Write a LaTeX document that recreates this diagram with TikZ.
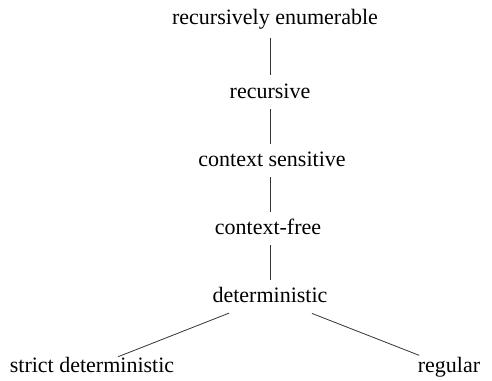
\documentclass[tikz,border=0pt]{standalone}
\usepackage{fontspec}
\setmainfont{Liberation Serif}

\begin{document}
\begin{tikzpicture}[x=1pt, y=-1pt]

    % styles for the class names and the links
    \tikzset{
        lang/.style={inner sep=0pt, text height=15pt, text depth=5pt,
                     font=\fontsize{22}{26}\selectfont},
        link/.style={line width=0.8pt, black!80, shorten <=6pt, shorten >=7pt},
        slant/.style={line width=0.8pt, black!80}
    }
    \useasboundingbox (0,0) rectangle (492,380);

    % ================= Chain (top to bottom) =================
    \node[lang] (re)  at (275,19)  {recursively enumerable};
    \node[lang] (rec) at (270,93)  {recursive};
    \node[lang] (cs)  at (272,161) {context sensitive};
    \node[lang] (cf)  at (268,229) {context-free};
    \node[lang] (det) at (270,297) {deterministic};

    % ================= Two branches =================
    \node[lang] (sd)  at (92,367)  {strict deterministic};
    \node[lang] (reg) at (449,367) {regular};

    % vertical links
    \draw[link, shorten <=9pt, shorten >=8pt] (rec.north |- re.south) -- (rec.north);
    \draw[link] (rec.south) -- (rec.south |- cs.north);
    \draw[link] (rec.south |- cs.south) -- (rec.south |- cf.north);
    \draw[link] (rec.south |- cf.south) -- (rec.south |- det.north);

    % slanted links
    \draw[slant, shorten <=16pt] (det) -- (sd);
    \draw[slant, shorten <=17pt, shorten >=4pt] (det) -- (reg);

\end{tikzpicture}
\end{document}
